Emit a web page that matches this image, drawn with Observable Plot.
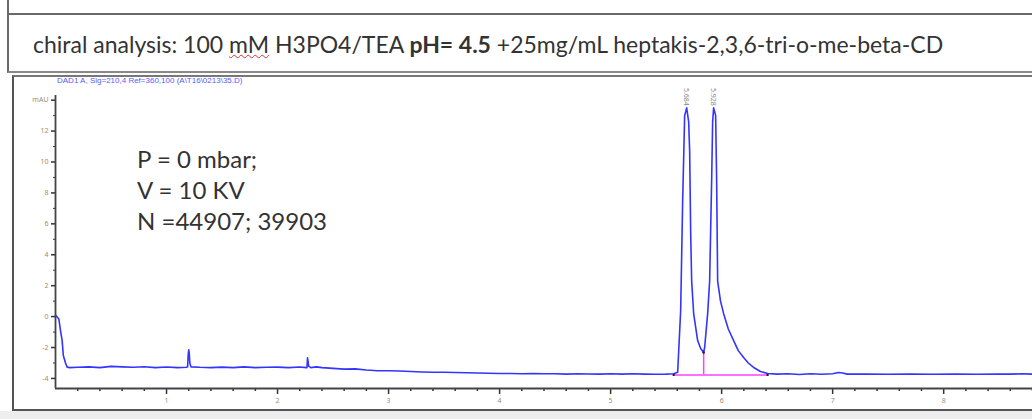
<!DOCTYPE html>
<html>
<head>
<meta charset="utf-8">
<script src="https://cdn.jsdelivr.net/npm/d3@7"></script>
<script src="https://cdn.jsdelivr.net/npm/@observablehq/plot@0.6"></script>
<style>
  html, body { margin: 0; padding: 0; }
  body { width: 1032px; height: 419px; position: relative; overflow: hidden; background: #fff; font-family: Lato, "Open Sans", sans-serif; }
  .abs { position: absolute; }
  #topstrip { left: 7px; top: 0; width: 1030px; height: 13px; border-left: 2px solid #6a6a6a; border-bottom: 2px solid #6a6a6a; }
  #titlebox { left: 7px; top: 15px; width: 1030px; height: 56px; border-left: 2px solid #6a6a6a; border-bottom: 2px solid #8a8a8a; }
  #title { left: 33px; top: 31px; font-size: 23px; color: #333; white-space: nowrap; line-height: 26px; }
  #title .sp { text-decoration: underline wavy #e03030; text-decoration-thickness: 1px; }
  #frame { left: 12px; top: 75px; width: 1030px; height: 332px; border-left: 2px solid #555; border-top: 2px solid #777; border-bottom: 2px solid #555; }
  #sig { left: 57px; top: 76px; font-size: 8px; color: #5a5aff; white-space: nowrap; font-family: "Liberation Sans", sans-serif; }
  #note { left: 137px; top: 143px; font-size: 24px; color: #333; line-height: 31px; white-space: nowrap; }
  #chart { left: 12px; top: 76px; }
  #bottomgray { left: 0; top: 411px; width: 1032px; height: 8px; background: #eeeeee; }
</style>
</head>
<body>
<div id="topstrip" class="abs"></div>
<div id="titlebox" class="abs"></div>
<div id="title" class="abs">chiral analysis: 100 <span class="sp">mM</span> H3PO4/TEA <b>pH= 4.5</b> +25mg/mL heptakis-2,3,6-tri-o-me-beta-CD</div>
<div id="frame" class="abs"></div>
<div id="chart" class="abs"></div>
<div id="sig" class="abs">DAD1 A, Sig=210,4 Ref=360,100 (A\T16\0213\35.D)</div>
<div id="note" class="abs">P = 0 mbar;<br>V = 10 KV<br>N =44907; 39903</div>
<div id="bottomgray" class="abs"></div>
<script>
// ---- data ----
const times = [
  0, 0.03, 0.045, 0.06, 0.07, 0.09, 0.105, 0.13, 0.2, 0.3, 0.4, 0.5, 0.6, 0.7, 0.8, 0.9, 1.0, 1.1, 1.18,
  1.19, 1.195, 1.2, 1.205, 1.21, 1.22, 1.3, 1.4, 1.5, 1.6, 1.7, 1.8, 1.9, 2.0, 2.1, 2.2, 2.26,
  2.265, 2.27, 2.275, 2.28, 2.3, 2.35, 2.4, 2.5, 2.6, 2.7, 2.8, 2.9, 3.0, 3.1, 3.2, 3.3, 3.4, 3.5,
  3.6, 3.7, 3.8, 3.9, 4.0, 4.1, 4.2, 4.3, 4.4, 4.5, 4.6, 4.7, 4.8, 4.9, 5.0, 5.1, 5.2, 5.3, 5.4, 5.5,
  5.568, 5.604, 5.631, 5.649, 5.667, 5.685, 5.703, 5.712, 5.721, 5.73, 5.748, 5.784, 5.811, 5.838,
  5.847, 5.874, 5.892, 5.91, 5.919, 5.928, 5.946, 5.955, 5.964, 5.99, 6.018, 6.06, 6.108, 6.15, 6.198,
  6.24, 6.288, 6.35, 6.414, 6.5, 6.6, 6.7, 6.8, 6.9, 7.0, 7.05, 7.09, 7.13, 7.3, 7.5, 7.7, 7.9, 8.1,
  8.3, 8.5, 8.6, 8.7, 8.8
];
const absorbance = [
  0.1, -0.15, -0.9, -1.55, -2.5, -3.0, -3.27, -3.3, -3.28, -3.25, -3.3, -3.22, -3.25, -3.28, -3.24, -3.3, -3.26, -3.3, -3.28,
  -3.25, -2.5, -2.15, -2.4, -3.0, -3.25, -3.28, -3.3, -3.27, -3.3, -3.25, -3.3, -3.28, -3.27, -3.3, -3.26, -3.3,
  -3.3, -2.67, -2.9, -3.2, -3.3, -3.25, -3.3, -3.35, -3.4, -3.38, -3.45, -3.5, -3.5, -3.52, -3.55, -3.58, -3.6, -3.6,
  -3.62, -3.63, -3.65, -3.66, -3.68, -3.68, -3.7, -3.69, -3.7, -3.7, -3.72, -3.7, -3.71, -3.72, -3.7, -3.72, -3.7, -3.72, -3.73, -3.72,
  -3.7, -3.6, 0.39, 7.5, 13.0, 13.5, 12.6, 10.7, 5.5, 2.3, 0.2, -1.55, -2.06, -2.32,
  -2.0, 0.19, 2.3, 8.8, 12.6, 13.5, 13.0, 8.8, 2.3, 1.0, 0.19, -0.8, -1.55, -2.2, -2.65,
  -3.0, -3.29, -3.55, -3.68, -3.72, -3.7, -3.74, -3.7, -3.73, -3.7, -3.62, -3.65, -3.72, -3.72, -3.73, -3.72, -3.73, -3.72,
  -3.73, -3.72, -3.72, -3.7, -3.72
];
const peakTimes = [5.685, 5.928];
const peakHeights = [13.5, 13.5];
const peakLabels = ["5.684", "5.928"];
const integStart = [5.568, -3.77];
const integEnd = [6.414, -3.77];
const valley = [5.838, -2.32];
const xMajor = [1, 2, 3, 4, 5, 6, 7, 8];
const yMajor = [-4, -2, 0, 2, 4, 6, 8, 10, 12, 14];
const yLabels = ["-4", "-2", "0", "2", "4", "6", "8", "10", "12", "mAU"];

// ---- build ----
const trace = times.map((t, i) => ({t, v: absorbance[i]}));
const peaks = peakTimes.map((t, i) => ({t, v: peakHeights[i], label: peakLabels[i]}));
const xMinor = d3.range(0, 8.8001, 0.2).map(d => +d.toFixed(1)).filter(d => !xMajor.includes(d) && d > 0);
const yMinor = d3.range(-4, 14.001, 1).filter(d => !yMajor.includes(d));
const yMin = -4.65, yMax = 14.3;
const labelColor = "#a88a6a";

const chart = Plot.plot({
  width: 1020,
  height: 333,
  marginLeft: 43,
  marginRight: 0,
  marginTop: 19,
  marginBottom: 21,
  x: {domain: [0, 8.8]},
  y: {domain: [yMin, yMax]},
  style: {background: "transparent", overflow: "visible"},
  marks: [
    Plot.axisX(xMajor, {tickSize: 6, tickPadding: 4, fontSize: 7, fill: labelColor, stroke: "#333", strokeWidth: 1.5, tickFormat: d => String(d), label: null}),
    Plot.axisX(xMinor, {tickSize: 3, stroke: "#333", strokeWidth: 1.5, tickFormat: () => "", label: null}),
    Plot.axisY(yMajor, {tickSize: 4, tickPadding: 3, fontSize: 7, fill: labelColor, stroke: "#333", strokeWidth: 1.5, tickFormat: (d) => yLabels[yMajor.indexOf(d)], label: null}),
    Plot.axisY(yMinor, {tickSize: 2, stroke: "#333", tickFormat: () => "", label: null}),
    Plot.ruleY([yMin], {x1: 0, x2: 8.8, stroke: "#444", strokeWidth: 1.8}),
    Plot.ruleX([0], {y1: yMin, y2: yMax, stroke: "#444", strokeWidth: 1.8}),
    Plot.ruleY([integStart[1]], {x1: integStart[0], x2: integEnd[0], stroke: "#ff40ff", strokeWidth: 1.5}),
    Plot.ruleX([valley[0]], {y1: integStart[1], y2: valley[1], stroke: "#ff40ff", strokeWidth: 1.5}),
    Plot.line(trace, {x: "t", y: "v", stroke: "#3434ff", strokeWidth: 1.6, curve: "linear"}),
    Plot.dot([integStart, valley, integEnd], {x: d => d[0], y: d => d[1], r: 1.2, fill: "#222", stroke: null}),
    Plot.text(peaks, {x: "t", y: "v", text: "label", rotate: 90, textAnchor: "end", dy: -2, fontSize: 7, fill: "#888"})
  ]
});
document.getElementById("chart").appendChild(chart);
</script>
</body>
</html>
